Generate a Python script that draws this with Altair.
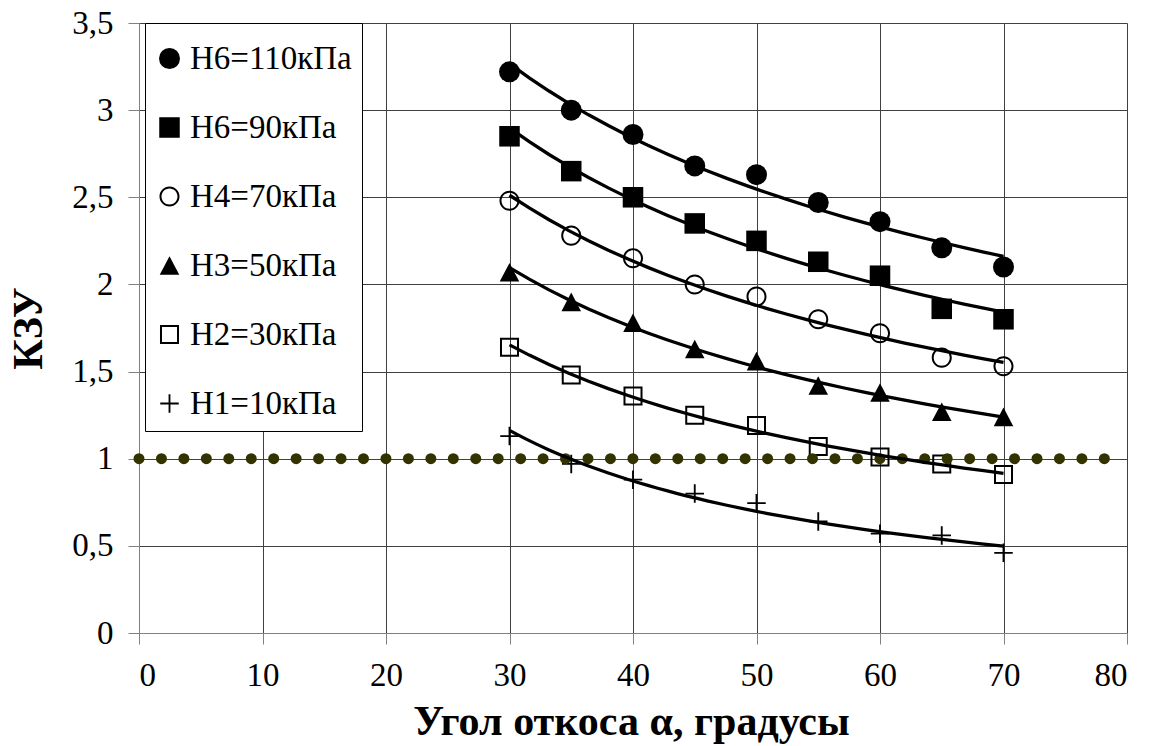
import altair as alt
import pandas as pd

# Slope angle, degrees
angles = [30, 35, 40, 45, 50, 55, 60, 65, 70]

# Stability factor (КЗУ) for each load level
kzu_h6_110 = [3.22, 3.00, 2.86, 2.68, 2.63, 2.47, 2.36, 2.21, 2.10]
kzu_h6_90 = [2.85, 2.65, 2.50, 2.35, 2.25, 2.13, 2.05, 1.86, 1.80]
kzu_h4_70 = [2.48, 2.28, 2.15, 2.00, 1.93, 1.80, 1.72, 1.58, 1.53]
kzu_h3_50 = [2.07, 1.90, 1.78, 1.63, 1.56, 1.42, 1.38, 1.27, 1.24]
kzu_h2_30 = [1.64, 1.48, 1.36, 1.25, 1.19, 1.07, 1.01, 0.97, 0.91]
kzu_h1_10 = [1.13, 0.97, 0.88, 0.80, 0.745, 0.64, 0.57, 0.56, 0.46]

series_names = ["Н6=110кПа", "Н6=90кПа", "Н4=70кПа", "Н3=50кПа", "Н2=30кПа", "Н1=10кПа"]
series_values = [kzu_h6_110, kzu_h6_90, kzu_h4_70, kzu_h3_50, kzu_h2_30, kzu_h1_10]

# Marker glyphs: filled shapes, rings (outer + reversed inner contour) and a thin plus
OPEN_CIRCLE = (
    "M-1,0A1,1 0 1,0 1,0A1,1 0 1,0 -1,0Z"
    "M-0.8,0A0.8,0.8 0 1,1 0.8,0A0.8,0.8 0 1,1 -0.8,0Z"
)
OPEN_SQUARE = "M-1,-1H1V1H-1Z M-0.79,-0.79V0.79H0.79V-0.79Z"
THIN_PLUS = "M-1,-0.1H-0.1V-1H0.1V-0.1H1V0.1H0.1V1H-0.1V0.1H-1Z"
TRIANGLE = "M0,-0.95L1,0.95L-1,0.95Z"

marker_shapes = ["circle", "square", OPEN_CIRCLE, TRIANGLE, OPEN_SQUARE, THIN_PLUS]
marker_sizes = [441, 342, 400, 484, 372, 400]

# Limit-equilibrium level КЗУ = 1
threshold_kzu = 1.0
threshold_from = 0
threshold_to = 78.2

x_ticks = [0, 10, 20, 30, 40, 50, 60, 70, 80]
y_ticks = [0, 0.5, 1, 1.5, 2, 2.5, 3, 3.5]

rows = []
for name, vals in zip(series_names, series_values):
    for a, v in zip(angles, vals):
        rows.append({"angle": a, "kzu": v, "series": name})
df = pd.DataFrame(rows)

thr_df = pd.DataFrame(
    {"angle": [threshold_from], "angle_end": [threshold_to], "kzu": [threshold_kzu]}
)

FONT = "Times New Roman, Liberation Serif, DejaVu Serif, serif"

x_enc = alt.X(
    "angle:Q",
    scale=alt.Scale(domain=[0, 80], nice=False),
    axis=alt.Axis(
        values=x_ticks,
        title="Угол откоса α, градусы",
        titleX=492,
        titleY=88,
        titleBaseline="middle",
        labelPadding=15,
    ),
)
y_enc = alt.Y(
    "kzu:Q",
    scale=alt.Scale(domain=[0, 3.5], nice=False),
    axis=alt.Axis(
        values=y_ticks,
        title="КЗУ",
        labelExpr="replace(format(datum.value, '.1~f'), '.', ',')",
        labelPadding=15,
        titleAngle=270,
        titleX=-111,
        titleY=305,
        titleAlign="center",
        titleBaseline="middle",
    ),
)

legend = alt.Legend(
    title=" ",
    titleFontSize=1,
    titlePadding=8,
    orient="none",
    legendX=6,
    legendY=0,
    padding=10,
    rowPadding=35,
    symbolOffset=-2,
    labelFont=FONT,
    labelFontSize=33,
    labelColor="black",
    labelOffset=4,
    labelLimit=400,
    strokeColor="black",
    fillColor="white",
    symbolFillColor="black",
    symbolStrokeWidth=0,
    symbolOpacity=1,
)

dots = (
    alt.Chart(thr_df)
    .mark_rule(color="#333300", strokeWidth=11, strokeCap="round", strokeDash=[0, 22.45])
    .encode(x=alt.X("angle:Q"), x2="angle_end:Q", y=alt.Y("kzu:Q"))
)

points = (
    alt.Chart(df)
    .mark_point(filled=True, color="black", opacity=1)
    .encode(
        x=x_enc,
        y=y_enc,
        shape=alt.Shape(
            "series:N",
            scale=alt.Scale(domain=series_names, range=marker_shapes),
            legend=legend,
        ),
        size=alt.Size(
            "series:N",
            scale=alt.Scale(domain=series_names, range=marker_sizes),
            legend=legend,
        ),
    )
)

trend = (
    alt.Chart(df)
    .transform_regression("angle", "kzu", method="pow", groupby=["series"])
    .mark_line(color="black", strokeWidth=3.3)
    .encode(x=alt.X("angle:Q"), y=alt.Y("kzu:Q"), detail="series:N")
)

chart = (
    alt.layer(points, dots, trend)
    .properties(
        width=988,
        height=610,
        padding={"left": 139, "top": 23, "right": 28, "bottom": 113},
        autosize=alt.AutoSizeParams(type="none"),
        background="white",
    )
    .configure_view(strokeWidth=0)
    .configure_axis(
        grid=True,
        gridColor="#404040",
        gridWidth=1,
        domainColor="#808080",
        tickColor="#808080",
        tickSize=11,
        labelFont=FONT,
        labelFontSize=33,
        labelColor="black",
        titleFont=FONT,
        titleFontSize=42,
        titleFontWeight="bold",
        titleColor="black",
    )
)

chart.save("out.html", embed_options={"renderer": "svg", "actions": False})
